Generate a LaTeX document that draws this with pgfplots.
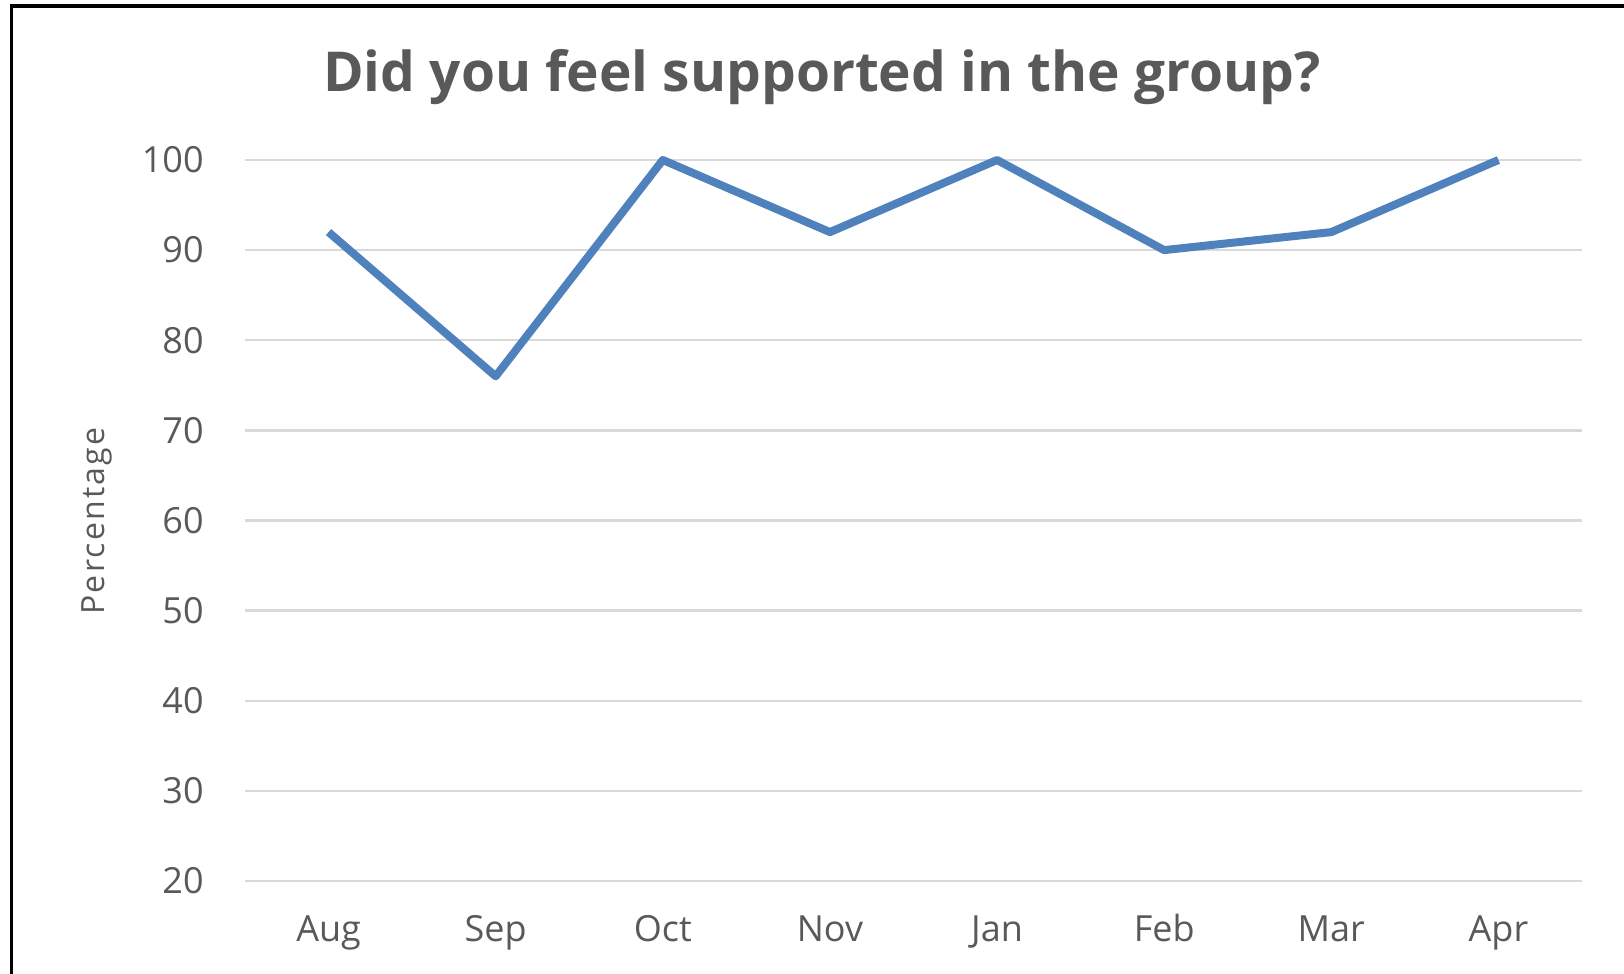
\documentclass[border=0pt]{standalone}
\usepackage{fontspec}
\setmainfont{Open Sans}
\usepackage{pgfplots}
\pgfplotsset{compat=1.18}
\definecolor{txt}{HTML}{595959}
\definecolor{gridc}{HTML}{D9D9D9}
\definecolor{lineblue}{HTML}{4F81BD}
\begin{document}
\begin{tikzpicture}
\useasboundingbox (-122.5pt,-46.5pt) rectangle (689.5pt,440.5pt);
\begin{axis}[
  at={(0pt,0pt)}, anchor=south west,
  scale only axis, width=668.5pt, height=360.5pt,
  xmin=-0.5, xmax=7.5, ymin=20, ymax=100,
  xtick={0,...,7},
  xticklabels={Aug,Sep,Oct,Nov,Jan,Feb,Mar,Apr},
  ytick={20,30,...,100},
  ymajorgrids,
  grid style={color=gridc, line width=1.2pt},
  axis line style={draw=none},
  major tick length=0pt,
  tick style={draw=none},
  /pgf/number format/assume math mode=true,
  tick label style={font=\fontsize{18}{20}\selectfont, text=txt, inner sep=0pt},
  yticklabel style={anchor=east, xshift=-20.5pt},
  xticklabel style={anchor=base, yshift=-30.5pt},
  clip=false,
]
\addplot[color=lineblue, line width=4pt, line join=round, mark=none] coordinates {
  (0,92) (1,76) (2,100) (3,92) (4,100) (5,90) (6,92) (7,100)
};
\end{axis}
\node[anchor=base, text=txt, font=\fontsize{27.5}{30}\selectfont\bfseries, inner sep=0pt] at (288.5pt,394.5pt) {Did you feel supported in the group?};
\node[anchor=base, rotate=90, text=txt, font=\fontsize{16}{18}\selectfont\addfontfeature{LetterSpace=7}, inner sep=0pt] at (-70pt,180pt) {Percentage};
\draw[line width=1.7pt, black] (-116.65pt,-46.5pt) -- (-116.65pt,437.4pt) -- (689.5pt,437.4pt);
\end{tikzpicture}
\end{document}
